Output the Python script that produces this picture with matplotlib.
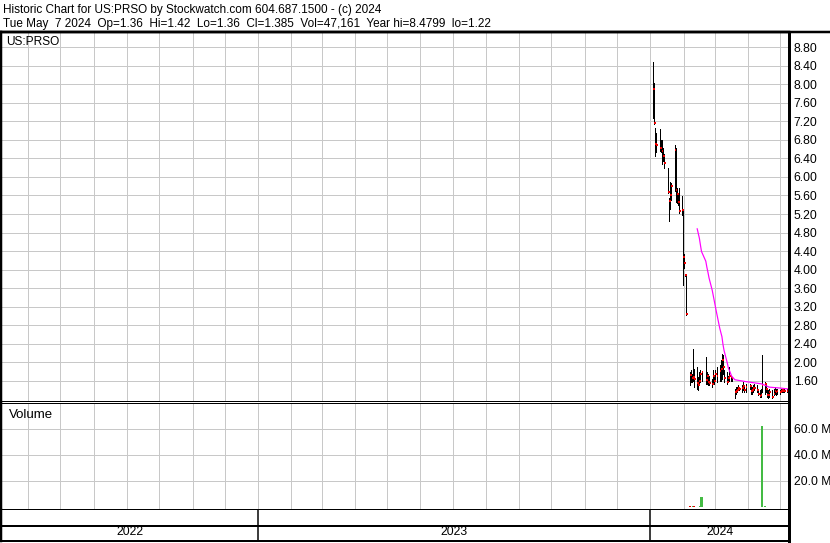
import matplotlib
matplotlib.use('Agg')
import matplotlib.pyplot as plt
import matplotlib.dates as mdates
from matplotlib.lines import Line2D
import numpy as np
import pandas as pd

plt.rcParams['font.family'] = ['Liberation Sans', 'DejaVu Sans']

# header texts
title_line = "Historic Chart for US:PRSO by Stockwatch.com 604.687.1500 - (c) 2024"
quote_line = "Tue May  7 2024  Op=1.36  Hi=1.42  Lo=1.36  Cl=1.385  Vol=47,161  Year hi=8.4799  lo=1.22"
symbol = "US:PRSO"

# visible date range of the chart
view_start = "2022-05-07"
view_end = "2024-05-09"
years = ["2022", "2023", "2024"]

# trading days (US market holidays removed)
holidays = ["2024-01-15", "2024-02-19", "2024-03-29"]
dates = pd.bdate_range("2024-01-02", "2024-05-07")
dates = dates[~dates.isin(pd.to_datetime(holidays))]

# daily high / low / close
high = [8.48, 8.02, 7.06, 6.95, 7.03, 6.80, 6.79, 6.62, 6.50, 6.20, 5.55, 5.90,
        5.87, 6.70, 6.63, 5.76, 5.65, 5.76, 5.58, 5.26, 4.34, 3.90, 3.88,
        1.79, 1.82, 1.75, 2.28, 1.86, 1.89, 1.68, 1.79, 1.82, 1.80, 2.11, 1.79,
        1.75, 1.71, 1.64, 1.82, 1.71, 1.82, 1.89, 1.93, 2.04, 2.18, 2.15, 1.82,
        1.79, 1.71, 1.89, 1.71, 1.68,
        1.42, 1.46, 1.46, 1.50, 1.46, 1.50, 1.57, 1.50, 1.53, 1.53, 1.50, 1.46,
        1.50, 1.53, 1.50, 1.42, 1.39, 1.42, 2.15, 1.57, 1.50, 1.42, 1.39, 1.42,
        1.39, 1.42, 1.46, 1.42, 1.42, 1.39, 1.42, 1.43, 1.42, 1.42, 1.42, 1.42]
low = [7.28, 7.14, 6.45, 6.55, 6.56, 6.55, 6.28, 6.35, 6.20, 5.65, 5.04, 5.30,
       5.50, 5.69, 5.47, 5.44, 5.40, 5.22, 5.18, 3.67, 4.03, 3.85, 3.01,
       1.50, 1.57, 1.57, 1.60, 1.46, 1.42, 1.39, 1.50, 1.57, 1.60, 1.53, 1.53,
       1.50, 1.50, 1.46, 1.57, 1.53, 1.60, 1.57, 1.60, 1.60, 1.64, 1.75, 1.57,
       1.53, 1.60, 1.60, 1.60, 1.60,
       1.22, 1.32, 1.35, 1.39, 1.39, 1.35, 1.39, 1.35, 1.35, 1.42, 1.32, 1.32,
       1.35, 1.39, 1.35, 1.28, 1.24, 1.24, 1.35, 1.32, 1.35, 1.24, 1.22, 1.24,
       1.22, 1.28, 1.32, 1.30, 1.32, 1.32, 1.36, 1.35, 1.35, 1.35, 1.35, 1.36]
close = [7.90, 7.17, 6.72, 6.70, 6.63, 6.62, 6.56, 6.45, 6.30, 5.68, 5.49, 5.60,
         5.80, 6.58, 5.71, 5.63, 5.45, 5.26, 5.28, 4.28, 4.15, 3.88, 3.03,
         1.72, 1.73, 1.65, 1.68, 1.64, 1.55, 1.50, 1.60, 1.75, 1.78, 1.62, 1.70,
         1.58, 1.55, 1.53, 1.70, 1.60, 1.75, 1.71, 1.80, 1.85, 2.04, 1.90, 1.65,
         1.57, 1.65, 1.70, 1.68, 1.65,
         1.35, 1.38, 1.40, 1.45, 1.42, 1.45, 1.48, 1.40, 1.46, 1.48, 1.38, 1.40,
         1.44, 1.45, 1.40, 1.32, 1.26, 1.30, 1.50, 1.52, 1.42, 1.30, 1.28, 1.35,
         1.25, 1.32, 1.38, 1.36, 1.38, 1.35, 1.38, 1.40, 1.38, 1.37, 1.38, 1.385]

# daily volume in millions of shares
volume = [0.20, 0.15, 0.12, 0.10, 0.10, 0.08, 0.09, 0.07, 0.08, 0.10, 0.12, 0.09,
          0.08, 0.11, 0.09, 0.07, 0.06, 0.08, 0.07, 0.15, 0.12, 0.08, 0.25,
          0.30, 0.20, 0.15, 0.40, 1.00, 0.20, 0.15, 0.12, 0.30, 7.90, 0.25, 0.12,
          0.10, 0.08, 0.07, 0.09, 0.08, 0.07, 0.08, 0.10, 0.12, 0.20, 0.15, 0.09,
          0.07, 0.06, 0.07, 0.06, 0.05,
          0.20, 0.10, 0.08, 0.07, 0.06, 0.06, 0.07, 0.05, 0.06, 0.05, 0.06, 0.05,
          0.05, 0.06, 0.05, 0.06, 0.07, 0.06, 62.00, 0.80, 0.15, 0.10, 0.08, 0.07,
          0.08, 0.06, 0.05, 0.06, 0.05, 0.05, 0.05, 0.05, 0.04, 0.05, 0.05, 0.047]

# moving average line (magenta), read at a few dates
ma_dates = ["2024-02-12", "2024-02-14", "2024-02-15", "2024-02-16", "2024-02-20",
            "2024-02-21", "2024-02-22", "2024-02-23", "2024-02-26", "2024-02-28",
            "2024-03-01", "2024-03-04", "2024-03-06", "2024-03-07", "2024-03-08",
            "2024-03-11", "2024-03-12", "2024-03-13", "2024-03-14", "2024-03-15",
            "2024-03-18", "2024-03-28", "2024-04-12", "2024-04-19", "2024-04-29",
            "2024-05-07"]
ma_values = [4.88, 4.68, 4.53, 4.39, 4.18, 4.05, 3.94, 3.82, 3.55, 3.31,
             3.07, 2.73, 2.55, 2.38, 2.25, 1.98, 1.87, 1.82, 1.76, 1.70,
             1.62, 1.58, 1.53, 1.46, 1.44, 1.42]

price_ticks = np.arange(1.6, 8.81, 0.4)
volume_ticks = [20, 40, 60]

W, H = 830, 543
GRID = '#c8c8c8'
PX = 0.72  # one pixel in points
shift = pd.Timedelta(hours=38)  # bars sit a bit right of the day start


def rect(x0, y0, x1, y1):
    return [x0 / W, 1 - y1 / H, (x1 - x0) / W, (y1 - y0) / H]


fig = plt.figure(figsize=(W / 100, H / 100), dpi=100)

ax = fig.add_axes(rect(1.25, 32, 789, 400.5))
axv = fig.add_axes(rect(1.25, 402.5, 789, 509.5))
axy = fig.add_axes(rect(1.25, 509.5, 789, 541))

x0, x1 = pd.Timestamp(view_start), pd.Timestamp(view_end)
for a in (ax, axv, axy):
    a.set_xlim(x0, x1)
    a.xaxis.set_major_locator(mdates.MonthLocator())
    a.tick_params(axis='x', length=0, labelbottom=False)
    a.spines['left'].set_linewidth(2.5 * PX)
    a.spines['right'].set_linewidth(3 * PX)

xd = dates + shift

# price panel
ax.vlines(xd, low, high, color='black', lw=PX, antialiased=False)
ax.hlines(close, xd, xd + pd.Timedelta(days=1.6), color='#ee0000', lw=2 * PX,
          antialiased=False)
ax.plot(pd.to_datetime(ma_dates) + shift, ma_values, color='#ff00ff', lw=1.2 * PX)
ax.set_ylim(1.171, 9.132)
ax.set_yticks(price_ticks)
ax.set_yticklabels([f"{t:.2f}" for t in price_ticks])
ax.yaxis.tick_right()
ax.tick_params(axis='y', length=0, pad=3.5, labelsize=8.7)
ax.grid(True, color=GRID, lw=PX)
ax.set_axisbelow(True)
ax.spines['top'].set_linewidth(2.5 * PX)
ax.spines['bottom'].set_linewidth(PX)

# volume panel
vol_colors = ['#44bb44' if i == 0 or close[i] >= close[i - 1] else '#e00000'
              for i in range(len(close))]
axv.bar(xd, volume, width=1.9, color=vol_colors, linewidth=0)
axv.set_ylim(-2, 80)
axv.set_yticks(volume_ticks)
axv.set_yticklabels([f"{t:.1f} M" for t in volume_ticks])
axv.yaxis.tick_right()
axv.tick_params(axis='y', length=0, pad=3.5, labelsize=8.7)
axv.grid(True, color=GRID, lw=PX)
axv.set_axisbelow(True)
axv.spines['top'].set_linewidth(PX)
axv.spines['bottom'].set_linewidth(2 * PX)

# year strip
axy.set_ylim(0, 1)
axy.set_yticks([])
axy.spines['top'].set_visible(False)
axy.spines['bottom'].set_linewidth(2 * PX)
axy.axhline(0.48, color='black', lw=2 * PX)
bounds = [x0] + [pd.Timestamp(f"{y}-01-01") for y in years[1:]] + [x1]
for b in bounds[1:-1]:
    axy.axvline(b, color='black', lw=1.5 * PX)
for i, y in enumerate(years):
    mid = bounds[i] + (bounds[i + 1] - bounds[i]) / 2
    axy.text(mid, 0.2, y, ha='center', va='baseline', fontsize=8.7)

# header and frame line on top
fig.add_artist(Line2D([0, 1], [1 - 32 / H, 1 - 32 / H], transform=fig.transFigure,
                      color='black', lw=2.5 * PX))
fig.text(2.5 / W, 1 - 12.7 / H, title_line, va='baseline', fontsize=8.5)
fig.text(2.5 / W, 1 - 27.3 / H, quote_line, va='baseline', fontsize=8.5)
fig.text(6.5 / W, 1 - 45 / H, symbol, va='baseline', fontsize=8.6)
fig.text(9 / W, 1 - 418.3 / H, "Volume", va='baseline', fontsize=9.5)

fig.savefig('out.png', dpi=100)
